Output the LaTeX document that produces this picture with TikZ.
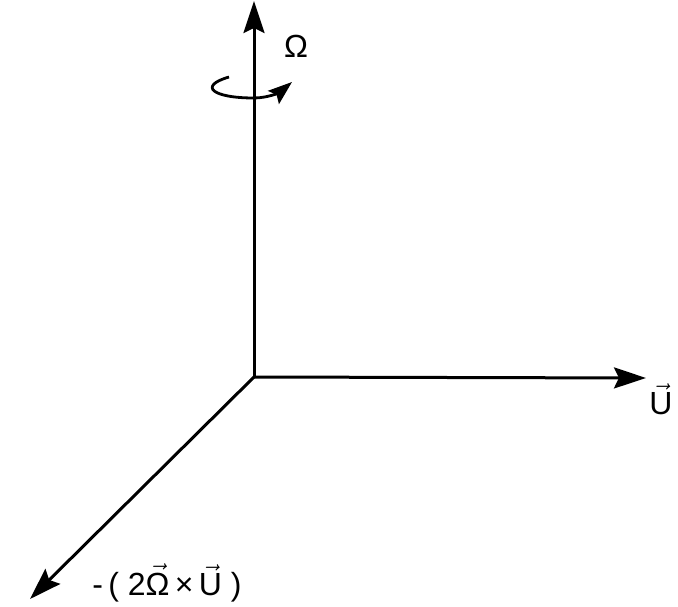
\RequirePackage{fix-cm}
\documentclass[tikz,border=0pt]{standalone}
\usepackage{fontspec}
\setmainfont{Liberation Sans}
\usetikzlibrary{arrows.meta}

\tikzstyle{axis} = [draw,line width=3pt,-{Stealth[length=32pt,width=21pt,inset=5pt]}]
\tikzstyle{spin} = [draw,line width=2.8pt,-{Stealth[length=24pt,width=17pt,inset=4pt]}]
\tikzstyle{tag} = [font=\fontsize{32}{34}\selectfont,inner sep=0pt]
\newcommand{\arrvec}[1]{$\vec{\mbox{#1}}$}

\begin{document}
\begin{tikzpicture}[x=1pt, y=-1pt]
    \useasboundingbox (0,0) rectangle (678,606);
    % origin and axis ends
    \coordinate (o) at (254,377);
    \coordinate (up) at (254,1);
    \coordinate (east) at (646,378);
    \coordinate (diag) at (30,599);
    % the three axes
    \foreach \tip in {up,east,diag}
        \path[axis] (o) -- (\tip);
    % rotation about the vertical axis
    \coordinate (s) at (229,77);
    \coordinate (t) at (292,82);
    \path[spin] (s) .. controls (198,86) and (212,98) .. (254,98)
        .. controls (268,98) and (280,92) .. (t);
    % labels
    \node[tag] (omega) at (296,46) {Ω};
    \node[tag] (u) at (661,399) {\arrvec{U}};
    \node[tag] (cor) at (167,583) {-\,( 2\arrvec{Ω}\,×\,\arrvec{U} )};
\end{tikzpicture}
\end{document}
